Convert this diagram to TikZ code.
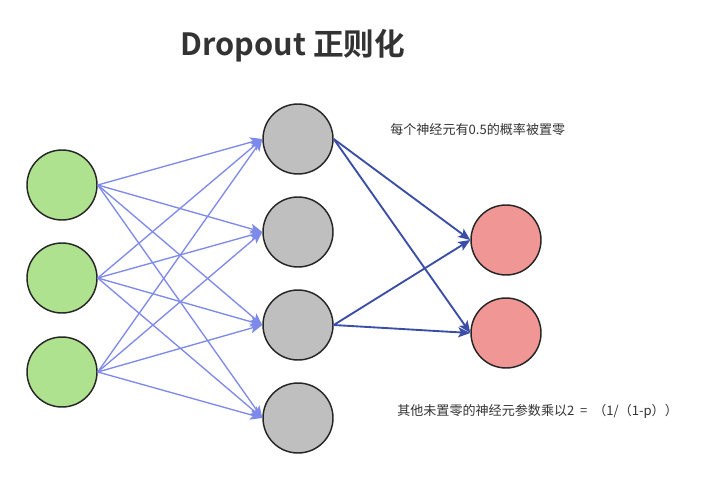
\documentclass[tikz,border=0pt]{standalone}
\usepackage{fontspec}
\setmainfont{Noto Sans CJK SC}[BoldFont={Noto Sans CJK SC Bold}]
\usetikzlibrary{arrows.meta}
\definecolor{inputgreen}{RGB}{174,226,142}
\definecolor{hiddengray}{RGB}{191,191,191}
\definecolor{outputred}{RGB}{240,150,148}
\definecolor{linklight}{RGB}{126,138,234}
\definecolor{linkdark}{RGB}{58,78,168}
\definecolor{textgray}{RGB}{51,51,51}

\begin{document}
\begin{tikzpicture}[x=0.75pt,y=0.75pt]
\tikzstyle{every node}+=[inner sep=0pt]
\tikzstyle{neuron}=[circle, draw=black!85, line width=1.1pt, minimum size=52.5pt]
\tikzstyle{thin link}=[draw=linklight, line width=1pt, -{Stealth[length=9pt,width=7.5pt,inset=2pt]}]
\tikzstyle{thick link}=[draw=linkdark, line width=1.4pt, -{Stealth[length=9pt,width=7.5pt,inset=2pt]}]
\useasboundingbox (0,0) rectangle (724,-478);
\draw (293,-46) node [text=textgray, font=\bfseries\fontsize{23}{27}\selectfont] (title) {Dropout 正则化};
\draw (390,-130) node [anchor=west, text=textgray, font=\fontsize{9.8}{11}\selectfont] (droptext) {每个神经元有0.5的概率被置零};
\draw (397,-411) node [anchor=west, text=textgray, font=\fontsize{9.8}{11}\selectfont] (scaletext) {其他未置零的神经元参数乘以2\ \ =\ \ （1/（1-p））};
% input layer
\node [neuron, fill=inputgreen] (in1) at (62,-185) {};
\node [neuron, fill=inputgreen] (in2) at (62,-278) {};
\node [neuron, fill=inputgreen] (in3) at (62,-372) {};
% hidden layer
\node [neuron, fill=hiddengray] (hid1) at (298,-139) {};
\node [neuron, fill=hiddengray] (hid2) at (298,-232) {};
\node [neuron, fill=hiddengray] (hid3) at (298,-325) {};
\node [neuron, fill=hiddengray] (hid4) at (298,-418) {};
% output layer
\node [neuron, fill=outputred] (out1) at (506,-240) {};
\node [neuron, fill=outputred] (out2) at (506,-333) {};
% input to hidden
\draw [thin link] (in1.east) -- (hid1.west);
\draw [thin link] (in1.east) -- (hid2.west);
\draw [thin link] (in1.east) -- (hid3.west);
\draw [thin link] (in1.east) -- (hid4.west);
\draw [thin link] (in2.east) -- (hid1.west);
\draw [thin link] (in2.east) -- (hid2.west);
\draw [thin link] (in2.east) -- (hid3.west);
\draw [thin link] (in2.east) -- (hid4.west);
\draw [thin link] (in3.east) -- (hid1.west);
\draw [thin link] (in3.east) -- (hid2.west);
\draw [thin link] (in3.east) -- (hid3.west);
\draw [thin link] (in3.east) -- (hid4.west);
% hidden to output
\draw [thick link] (hid1.east) -- (out1.west);
\draw [thick link] (hid1.east) -- (out2.west);
\draw [thick link] (hid3.east) -- (out1.west);
\draw [thick link] (hid3.east) -- (out2.west);
\end{tikzpicture}
\end{document}
